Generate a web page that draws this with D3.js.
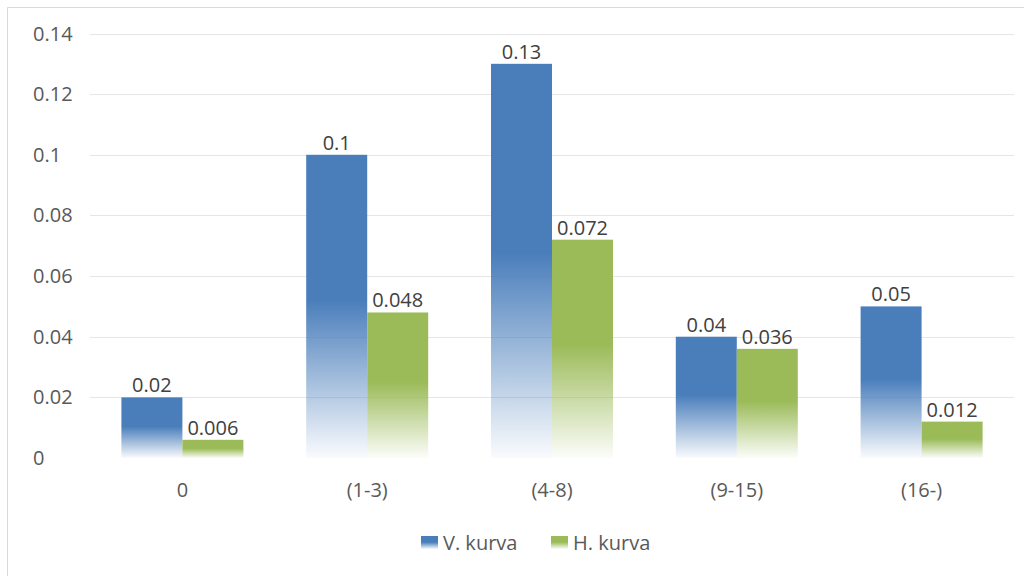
<!DOCTYPE html>
<html>
<head>
<meta charset="utf-8">
<script src="https://cdnjs.cloudflare.com/ajax/libs/d3/7.8.5/d3.min.js"></script>
<style>
  body { margin: 0; background: #fff; }
  #chart { width: 1024px; height: 576px; }
  text { font-family: "Open Sans", "Liberation Sans", sans-serif; }
</style>
</head>
<body>
<div id="chart"></div>
<script>
// chart data
const categories = ["0", "(1-3)", "(4-8)", "(9-15)", "(16-)"];
const seriesNames = ["V. kurva", "H. kurva"];
const vKurva = [0.02, 0.1, 0.13, 0.04, 0.05];
const hKurva = [0.006, 0.048, 0.072, 0.036, 0.012];
const yTicks = [0, 0.02, 0.04, 0.06, 0.08, 0.1, 0.12, 0.14];
const colors = ["#4a7ebb", "#9bbb59"];

document.addEventListener("DOMContentLoaded", function() {
  const width = 1024, height = 576;
  const left = 90, right = 1014, top = 33.5, bottom = 458;
  const fs = 20;

  var svg = d3.select("#chart").append("svg")
    .attr("width", width)
    .attr("height", height);

  // outer frame (only top and left visible in the original)
  svg.append("path")
    .attr("d", "M7.5,576 V7.5 H1024")
    .attr("fill", "none")
    .attr("stroke", "#d9d9d9")
    .attr("stroke-width", 1);

  // gradients: solid top half, fading to white at the bottom
  var defs = svg.append("defs");
  colors.forEach(function(c, i) {
    var g = defs.append("linearGradient")
      .attr("id", "grad" + i)
      .attr("x1", 0).attr("y1", 0).attr("x2", 0).attr("y2", 1);
    g.append("stop").attr("offset", "0%").attr("stop-color", c).attr("stop-opacity", 1);
    g.append("stop").attr("offset", "48%").attr("stop-color", c).attr("stop-opacity", 1);
    g.append("stop").attr("offset", "100%").attr("stop-color", c).attr("stop-opacity", 0.03);
  });

  var y = d3.scaleLinear().domain([0, 0.14]).range([bottom, top]);
  var x0 = d3.scaleBand().domain(categories).range([left, right]).padding(0);
  var x1 = d3.scaleBand().domain(seriesNames)
    .range([x0.bandwidth() / 2 - 61, x0.bandwidth() / 2 + 61]);

  // gridlines (no visible line at zero)
  svg.append("g").selectAll("line").data(yTicks.filter(d => d > 0)).enter().append("line")
    .attr("x1", left).attr("x2", right)
    .attr("y1", d => Math.round(y(d)) + 0.5)
    .attr("y2", d => Math.round(y(d)) + 0.5)
    .attr("stroke", "#e6e6e6")
    .attr("stroke-width", 1);

  // y tick labels (left aligned like the original)
  svg.append("g").selectAll("text").data(yTicks).enter().append("text")
    .attr("x", 33)
    .attr("y", d => y(d))
    .attr("dy", "0.35em")
    .attr("font-size", fs)
    .attr("fill", "#595959")
    .text(d => d3.format("~g")(d));

  // x category labels
  svg.append("g").selectAll("text").data(categories).enter().append("text")
    .attr("x", d => x0(d) + x0.bandwidth() / 2)
    .attr("y", 497)
    .attr("text-anchor", "middle")
    .attr("font-size", fs)
    .attr("fill", "#595959")
    .text(d => d);

  var series = [vKurva, hKurva];
  var bars = [];
  series.forEach(function(vals, si) {
    vals.forEach(function(v, ci) {
      bars.push({ cat: categories[ci], name: seriesNames[si], si: si, value: v });
    });
  });

  svg.append("g").selectAll("rect").data(bars).enter().append("rect")
    .attr("x", d => x0(d.cat) + x1(d.name))
    .attr("y", d => y(d.value))
    .attr("width", x1.bandwidth())
    .attr("height", d => y(0) - y(d.value))
    .attr("fill", d => "url(#grad" + d.si + ")");

  // value labels
  svg.append("g").selectAll("text").data(bars).enter().append("text")
    .attr("x", d => x0(d.cat) + x1(d.name) + x1.bandwidth() / 2)
    .attr("y", d => y(d.value) - 5)
    .attr("text-anchor", "middle")
    .attr("font-size", fs)
    .attr("fill", "#404040")
    .text(d => d3.format("~g")(d.value));

  // legend
  var legendX = [421, 551];
  var legend = svg.append("g").selectAll("g").data(seriesNames).enter().append("g")
    .attr("transform", (d, i) => "translate(" + legendX[i] + ",536)");
  legend.append("rect")
    .attr("width", 17).attr("height", 13)
    .attr("fill", (d, i) => "url(#grad" + i + ")");
  legend.append("text")
    .attr("x", 22).attr("y", 7)
    .attr("dy", "0.35em")
    .attr("font-size", fs)
    .attr("fill", "#595959")
    .text(d => d);
});
</script>
</body>
</html>
